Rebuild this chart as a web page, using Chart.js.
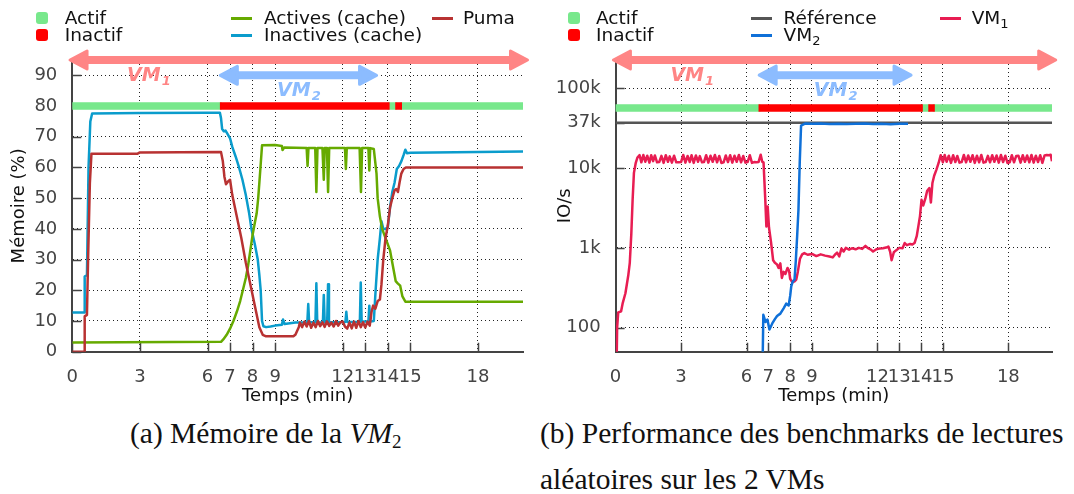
<!DOCTYPE html>
<html lang="fr">
<head>
<meta charset="utf-8">
<title>Mémoire de la VM2 et performance des lectures aléatoires</title>
<script src="https://cdn.jsdelivr.net/npm/chart.js@4.4.0/dist/chart.umd.min.js"></script>
<style>
  html, body { margin: 0; padding: 0; background: #fff; }
  body { width: 1074px; height: 494px; position: relative; overflow: hidden; font-family: "DejaVu Sans", sans-serif; }
  .panel { position: absolute; top: 0; height: 410px; }
  #left { left: 0; width: 540px; }
  #right { left: 540px; width: 534px; }
  .lg-text { position: absolute; height: 20px; line-height: 20px; font-size: 18.5px; color: #111; white-space: nowrap; }
  .lg-text sub { font-size: 13px; vertical-align: -4px; line-height: 0; }
  .lg-mark { position: absolute; }
  .caption { position: absolute; font-family: "Liberation Serif", serif; font-size: 29.5px; line-height: 46px; color: #111; white-space: nowrap; }
  .caption sub { font-size: 19px; vertical-align: -5px; line-height: 0; }
</style>
</head>
<body>
<div class="panel" id="left"><canvas id="memChart" width="540" height="410"></canvas></div>
<div class="panel" id="right"><canvas id="ioChart" width="534" height="410"></canvas></div>
<div id="legends"></div>
<div class="caption" style="left:130px; top:410px;">(a) Mémoire de la <i>VM</i><sub>2</sub></div>
<div class="caption" style="left:540px; top:410px;">(b) Performance des benchmarks de lectures<br>aléatoires sur les 2 VMs</div>

<script>
// Axis ticks
const timeTicks = [0, 3, 6, 7, 8, 9, 12, 13, 14, 15, 18];
const memTicks = [0, 10, 20, 30, 40, 50, 60, 70, 80, 90];
const ioTicks = [100, 1000, 10000, 37000, 100000];
const ioTickLabels = ["100", "1k", "10k", "37k", "100k"];

// VM2 state over time (min)
const statusTimes = [0, 6.55, 14.08, 14.33, 14.63, 20];
const statusStates = ["Actif", "Inactif", "Actif", "Inactif", "Actif"];

// (a) memory of VM2 (%)
const activesTime = [0, 6.6, 6.7, 6.85, 7.0, 7.15, 7.3, 7.45, 7.6, 7.7, 7.8, 7.9, 8.0, 8.1, 8.18, 8.25, 8.3, 8.35, 8.42, 9.0,
  9.3, 9.33, 9.4, 10.4, 10.44, 10.48, 10.78, 10.83, 10.88, 11.1, 11.16, 11.2, 11.3, 11.35, 11.4, 12.1, 12.14, 12.18, 12.75, 12.81,
  12.86, 13.14, 13.18, 13.22, 13.38, 13.5, 13.55, 13.65, 13.75, 13.9, 14.1, 14.2, 14.35, 14.45, 14.55, 14.65, 14.78, 20];
const activesVal = [3, 3.2, 4, 5.5, 7.5, 10, 13, 16.5, 21, 24, 28, 33, 38, 42, 45, 50, 55, 60, 67.2, 67.3,
  67, 65.7, 66.5, 66.3, 60.5, 66.3, 66.3, 52, 66.3, 66.3, 56, 66.3, 66.3, 52, 66.3, 66.3, 59.5, 66.3, 66.3, 52,
  66.3, 66.3, 59, 66.3, 66, 58, 50, 44, 40, 37, 33, 29, 23, 22.2, 21.5, 18, 16.3, 16.3];

const inactivesTime = [0, 0.52, 0.55, 0.65, 0.72, 0.8, 0.88, 3, 6, 6.55, 6.6, 6.65, 6.72, 6.8, 6.88, 7.0, 7.1, 7.25, 7.4, 7.55,
  7.7, 7.85, 7.95, 8.1, 8.23, 8.3, 8.36, 8.42, 8.48, 8.6, 8.8, 9.0, 9.3, 9.35, 9.42, 9.9, 10.2, 10.43, 10.47, 10.51,
  10.79, 10.83, 10.87, 11.12, 11.16, 11.2, 11.31, 11.35, 11.39, 12.12, 12.16, 12.2, 12.76, 12.8, 12.84, 13.14, 13.18, 13.22, 13.38, 13.46,
  13.55, 13.65, 13.72, 13.8, 13.9, 14.0, 14.1, 14.2, 14.3, 14.4, 14.5, 14.6, 14.7, 14.78, 14.85, 15, 18, 20];
const inactivesVal = [12.8, 12.8, 24.5, 25, 60, 75, 77.6, 77.7, 77.8, 77.8, 76, 72.5, 71.8, 72, 71, 69.5, 66.7, 63.5, 60, 56,
  51, 45, 40, 35, 30, 25, 20, 10, 8.3, 8, 8.2, 8.5, 8.8, 10.5, 9, 9.5, 9.5, 9.6, 15.5, 9.6,
  9.6, 22.3, 9.5, 9.6, 18.5, 9.6, 9.6, 22, 9.6, 9.7, 13, 9.7, 9.7, 22.5, 9.8, 9.8, 15, 9.8, 10, 20,
  30, 37, 42.5, 40, 40, 40.5, 47, 52, 55, 59.5, 60.5, 62, 64, 65.8, 64.6, 64.8, 65, 65.2];

const pumaTime = [0, 0.53, 0.55, 0.65, 0.7, 0.78, 0.85, 2.9, 3.0, 6.6, 6.68, 6.75, 6.82, 6.92, 7.0, 7.1, 7.3, 7.5, 7.7, 7.9,
  8.1, 8.3, 8.45, 8.6, 9.2, 9.8, 9.9, 10.05, 10.1, 10.2, 10.3, 10.4, 10.5, 10.6, 10.7, 10.8, 10.9, 11.0, 11.1, 11.2,
  11.3, 11.4, 11.5, 11.6, 11.7, 11.8, 11.9, 12.0, 12.1, 12.2, 12.3, 12.4, 12.5, 12.6, 12.7, 12.8, 12.9, 13.0, 13.1, 13.2,
  13.28, 13.35, 13.45, 13.55, 13.65, 13.72, 13.8, 13.9, 14.0, 14.1, 14.2, 14.3, 14.38, 14.45, 14.52, 14.6, 14.7, 14.8, 20];
const pumaVal = [0, 0, 11.5, 12, 30, 55, 64.5, 64.5, 64.9, 65, 62, 57, 54.5, 55.5, 56, 51, 44, 37, 29, 22,
  15, 8, 5.5, 5, 5, 5, 5.5, 8, 9.5, 8, 9.8, 8.2, 10, 7.8, 9.5, 8, 10, 8.3, 9.6, 8.1,
  9.9, 8.4, 9.5, 8.2, 10, 8.5, 9.6, 9.8, 8.2, 7.5, 9.5, 7.6, 9.8, 7.8, 10, 8, 9.6, 7.9, 9.8, 8.5,
  13, 15, 14, 16.5, 17, 22, 30, 37, 41, 47, 50, 52.5, 53, 52, 55, 58, 59.5, 60, 60];

// (b) random read IO/s
const refTime = [0, 20];
const refVal = [37000, 37000];

const vm1Time = [
  0.05, 0.07, 0.12, 0.25, 0.32, 0.45, 0.58, 0.65, 0.72, 0.78,
  0.84, 0.92, 1.0, 1.1, 1.18, 1.27, 1.36, 1.45, 1.55, 1.63,
  1.72, 1.8, 1.9, 2.0, 2.1, 2.2, 2.3, 2.4, 2.48, 2.58,
  2.68, 2.78, 2.9, 3.0, 3.1, 3.2, 3.3, 3.4, 3.48, 3.58,
  3.68, 3.78, 3.86, 3.96, 4.05, 4.15, 4.25, 4.35, 4.45, 4.55,
  4.65, 4.75, 4.85, 4.95, 5.05, 5.15, 5.25, 5.35, 5.45, 5.55,
  5.65, 5.75, 5.85, 5.95, 6.05, 6.15, 6.25, 6.35, 6.45, 6.55,
  6.65, 6.72, 6.78, 6.86, 6.91, 6.97, 7.03, 7.12, 7.22, 7.3,
  7.4, 7.47, 7.55, 7.62, 7.7, 7.78, 7.88, 7.95, 8.0, 8.1,
  8.2, 8.28, 8.35, 8.45, 8.55, 8.65, 8.8, 9.0, 9.2, 9.4,
  9.6, 9.8, 9.95, 10.05, 10.15, 10.25, 10.35, 10.45, 10.55, 10.7,
  10.85, 11.0, 11.15, 11.3, 11.45, 11.55, 11.7, 11.8, 11.95, 12.1,
  12.25, 12.4, 12.5, 12.58, 12.65, 12.75, 12.85, 13.0, 13.15, 13.25,
  13.35, 13.5, 13.6, 13.7, 13.8, 13.88, 13.95, 14.02, 14.1, 14.2,
  14.28, 14.38, 14.45, 14.52, 14.6, 14.7, 14.8, 14.9, 15.0, 15.08,
  15.17, 15.27, 15.37, 15.47, 15.57, 15.66, 15.76, 15.86, 15.96, 16.06,
  16.16, 16.26, 16.36, 16.46, 16.56, 16.66, 16.76, 16.86, 16.96, 17.06,
  17.16, 17.26, 17.36, 17.46, 17.56, 17.66, 17.76, 17.86, 17.96, 18.06,
  18.16, 18.26, 18.36, 18.46, 18.56, 18.66, 18.76, 18.86, 18.96, 19.06,
  19.16, 19.26, 19.36, 19.46, 19.56, 19.66, 19.76, 19.86, 19.94, 20.0];
const vm1Val = [
  40, 100, 155, 160, 200, 270, 450, 650, 1500, 4000,
  8700, 11500, 13500, 14500, 11800, 14600, 12000, 14300, 11700, 14500,
  12200, 14400, 11800, 11900, 14200, 11600, 14500, 12000, 14000, 11700,
  14300, 11800, 11800, 11900, 14600, 11700, 14200, 11900, 14500, 11600,
  14400, 12000, 14100, 11800, 11900, 14500, 11700, 14300, 12000, 14600,
  11800, 14200, 11600, 11800, 14400, 11900, 14500, 11700, 14300, 12000,
  14600, 11800, 14200, 11700, 11900, 14500, 11600, 11900, 11800, 11900,
  14700, 12000, 11800, 4000, 1850, 3300, 1800, 1200, 700, 650,
  620, 560, 640, 420, 500, 470, 560, 520, 410, 370,
  380, 400, 500, 730, 830, 860, 820, 840, 790, 830,
  800, 780, 760, 820, 870, 780, 980, 900, 1000, 950,
  990, 960, 1000, 970, 1060, 1000, 950, 900, 960, 980,
  990, 1010, 1040, 900, 700, 880, 930, 1000, 990, 1150,
  1080, 1120, 1100, 1150, 1400, 1900, 2500, 4000, 3400, 4200,
  5200, 5600, 3700, 6500, 8000, 9500, 11500, 14500, 11800, 14600,
  12000, 14300, 11600, 14500, 11900, 14200, 11700, 11900, 14600, 11800,
  14400, 12000, 14500, 11600, 14300, 11800, 14600, 11700, 11900, 14200,
  11800, 14500, 12000, 14400, 11700, 14600, 11900, 14300, 11600, 11800,
  14500, 11800, 14200, 14300, 11700, 14500, 12000, 14400, 11800, 14600,
  11700, 14300, 11900, 14500, 11600, 14400, 14600, 14500, 14700, 12200];

const vm2Time = [6.74, 6.77, 6.87, 6.96, 7.05, 7.18, 7.3, 7.4, 7.55, 7.7,
  7.82, 7.93, 8.0, 8.05, 8.12, 8.2, 8.26, 8.32, 8.38, 8.44,
  8.5, 8.7, 9.0, 9.4, 9.8, 10.2, 10.6, 11.0, 11.4, 11.8,
  12.2, 12.6, 13.0, 13.4];
const vm2Val = [40, 145, 118, 126, 95, 113, 128, 140, 150, 175,
  200, 190, 250, 330, 380, 400, 700, 1400, 3000, 12000,
  34000, 36200, 35800, 36300, 35700, 36000, 35600, 35900, 36200, 35700,
  35800, 35500, 35900, 36000];

// Colours
const colActif = "#78e88c";
const colInactif = "#ff0000";
const colActives = "#66aa00";
const colInactives = "#0a9ccc";
const colPuma = "#b83232";
const colRef = "#555555";
const colVM1 = "#e81d52";
const colVM2 = "#0f70d8";
const colArrow1 = "#ff8585";
const colArrow2 = "#8cbcff";

Chart.defaults.font.family = "'DejaVu Sans', sans-serif";
Chart.defaults.font.size = 18;
Chart.defaults.animation = false;

// Helpers
function pts(times, vals) {
  return times.map((t, i) => ({ x: t, y: vals[i] }));
}

function statusPoints(state, level) {
  const out = [];
  statusStates.forEach((s, i) => {
    if (s !== state) return;
    out.push({ x: statusTimes[i], y: level }, { x: statusTimes[i + 1], y: level }, { x: statusTimes[i + 1], y: null });
  });
  return out;
}

function lineSet(label, data, color, width) {
  return { label, data, borderColor: color, backgroundColor: color, borderWidth: width || 2.5,
    pointRadius: 0, tension: 0, borderJoinStyle: "round", fill: false, spanGaps: false };
}

function statusSets(level) {
  return [
    Object.assign(lineSet("Inactif", statusPoints("Inactif", level), colInactif, 7.5), { borderCapStyle: "butt" }),
    Object.assign(lineSet("Actif", statusPoints("Actif", level), colActif, 7.5), { borderCapStyle: "round" })
  ];
}

// Small inward tick marks on both axes
const innerTicks = {
  id: "innerTicks",
  beforeDatasetsDraw(chart) {
    const { ctx, chartArea, scales } = chart;
    ctx.save();
    ctx.strokeStyle = "#444";
    ctx.lineWidth = 1.5;
    ctx.beginPath();
    scales.x.ticks.forEach(t => {
      const px = Math.round(scales.x.getPixelForValue(t.value)) + 0.5;
      ctx.moveTo(px, chartArea.bottom);
      ctx.lineTo(px, chartArea.bottom - 9);
    });
    scales.y.ticks.forEach(t => {
      const py = Math.round(scales.y.getPixelForValue(t.value)) + 0.5;
      ctx.moveTo(chartArea.left, py);
      ctx.lineTo(chartArea.left + 9, py);
    });
    ctx.stroke();
    ctx.restore();
  }
};

// Double arrows showing when each VM runs
const vmArrows = {
  id: "vmArrows",
  afterDatasetsDraw(chart, args, opts) {
    const { ctx, scales } = chart;
    (opts.arrows || []).forEach(a => {
      const x1 = scales.x.getPixelForValue(a.from);
      const x2 = scales.x.getPixelForValue(a.to);
      const y = scales.y.getPixelForValue(a.y);
      const head = 17, half = 9;
      ctx.save();
      ctx.strokeStyle = a.color;
      ctx.fillStyle = a.color;
      ctx.lineWidth = 8;
      ctx.beginPath();
      ctx.moveTo(x1 + head - 2, y);
      ctx.lineTo(x2 - head + 2, y);
      ctx.stroke();
      ctx.lineWidth = 3;
      ctx.lineJoin = "round";
      [[x1, 1], [x2, -1]].forEach(([tip, dir]) => {
        ctx.beginPath();
        ctx.moveTo(tip, y);
        ctx.lineTo(tip + dir * head, y - half);
        ctx.lineTo(tip + dir * head, y + half);
        ctx.closePath();
        ctx.fill();
        ctx.stroke();
      });
      // label VM with subscript
      const big = "italic bold 19px 'DejaVu Sans'";
      const small = "italic bold 13px 'DejaVu Sans'";
      ctx.font = big;
      const w1 = ctx.measureText(a.name).width;
      ctx.font = small;
      const w2 = ctx.measureText(a.sub).width;
      const lx = a.labelAt === "start" ? x1 + 57 : (x1 + x2) / 2 - (w1 + w2) / 2;
      const ly = y + 21;
      ctx.textBaseline = "alphabetic";
      ctx.textAlign = "left";
      ctx.font = big;
      ctx.fillText(a.name, lx, ly);
      ctx.font = small;
      ctx.fillText(a.sub, lx + w1 + 1, ly + 4);
      ctx.restore();
    });
  }
};

function timeAxis() {
  return {
    type: "linear", min: 0, max: 20,
    afterBuildTicks: s => { s.ticks = timeTicks.map(v => ({ value: v })); },
    afterFit: s => { s.height = 58.3; },
    ticks: { autoSkip: false, maxRotation: 0, minRotation: 0, color: "#444", padding: 14.5, callback: v => String(v) },
    grid: { color: "#222", lineWidth: 1, drawTicks: false },
    border: { color: "#444", width: 2, dash: [1, 3] },
    title: { display: true, text: "Temps (min)", color: "#111", padding: { top: 0, bottom: 3.2 } }
  };
}

// (a) memory chart
new Chart(document.getElementById("memChart"), {
  type: "line",
  data: {
    datasets: [
      ...statusSets(80),
      lineSet("Puma", pts(pumaTime, pumaVal), colPuma),
      lineSet("Actives (cache)", pts(activesTime, activesVal), colActives),
      lineSet("Inactives (cache)", pts(inactivesTime, inactivesVal), colInactives)
    ]
  },
  options: {
    responsive: false,
    layout: { padding: { top: 60, right: 17, bottom: 0, left: 0 } },
    scales: {
      x: timeAxis(),
      y: {
        type: "linear", min: 0, max: 95,
        afterBuildTicks: s => { s.ticks = memTicks.map(v => ({ value: v })); },
        afterFit: s => { s.width = 72.3; },
        ticks: { color: "#444", padding: 15 },
        grid: { color: "#222", lineWidth: 1, drawTicks: false },
        border: { color: "#444", width: 2, dash: [1, 3] },
        title: { display: true, text: "Mémoire (%)", color: "#111", padding: { top: 8.2, bottom: 0 } }
      }
    },
    plugins: {
      legend: { display: false },
      tooltip: { enabled: false },
      vmArrows: { arrows: [
        { name: "VM", sub: "1", from: -0.1, to: 20.2, y: 95, color: colArrow1, labelAt: "start" },
        { name: "VM", sub: "2", from: 6.57, to: 13.5, y: 90, color: colArrow2, labelAt: "center" }
      ] }
    }
  },
  plugins: [innerTicks, vmArrows]
});

// (b) IO/s chart
new Chart(document.getElementById("ioChart"), {
  type: "line",
  data: {
    datasets: [
      ...statusSets(56500),
      lineSet("VM2", pts(vm2Time, vm2Val), colVM2),
      lineSet("VM1", pts(vm1Time, vm1Val), colVM1),
      lineSet("Référence", pts(refTime, refVal), colRef)
    ]
  },
  options: {
    responsive: false,
    layout: { padding: { top: 60, right: 22, bottom: 0, left: 0 } },
    scales: {
      x: timeAxis(),
      y: {
        type: "logarithmic", min: 50, max: 226000,
        afterBuildTicks: s => { s.ticks = ioTicks.map(v => ({ value: v })); },
        afterFit: s => { s.width = 75.6; },
        ticks: { color: "#444", padding: 15, callback: (v, i) => ioTickLabels[i] },
        grid: {
          color: c => (c.tick && c.tick.value === 37000 ? "rgba(0,0,0,0)" : "#222"),
          lineWidth: 1, drawTicks: false
        },
        border: { color: "#444", width: 2, dash: [1, 3] },
        title: { display: true, text: "IO/s", color: "#111", padding: { top: 14.2, bottom: 0 } }
      }
    },
    plugins: {
      legend: { display: false },
      tooltip: { enabled: false },
      vmArrows: { arrows: [
        { name: "VM", sub: "1", from: -0.1, to: 20.17, y: 226000, color: colArrow1, labelAt: "start" },
        { name: "VM", sub: "2", from: 6.58, to: 13.54, y: 146000, color: colArrow2, labelAt: "center" }
      ] }
    }
  },
  plugins: [innerTicks, vmArrows]
});

// Legends (HTML, two rows per panel)
const legendItems = [
  { text: "Actif", kind: "dot", color: colActif, mx: 36, tx: 64.7, cy: 18.3 },
  { text: "Inactif", kind: "dot", color: colInactif, mx: 36, tx: 64.7, cy: 35 },
  { text: "Actives (cache)", kind: "line", color: colActives, mx: 231, tx: 264, cy: 18.3 },
  { text: "Inactives (cache)", kind: "line", color: colInactives, mx: 231, tx: 264, cy: 35 },
  { text: "Puma", kind: "line", color: colPuma, mx: 431.5, tx: 463, cy: 18.3 },
  { text: "Actif", kind: "dot", color: colActif, mx: 568, tx: 596, cy: 18.3 },
  { text: "Inactif", kind: "dot", color: colInactif, mx: 568, tx: 596, cy: 35 },
  { text: "Référence", kind: "line", color: colRef, mx: 751, tx: 783.5, cy: 18.3 },
  { text: "VM<sub>2</sub>", kind: "line", color: colVM2, mx: 751, tx: 783.5, cy: 35 },
  { text: "VM<sub>1</sub>", kind: "line", color: colVM1, mx: 940, tx: 971.7, cy: 18.3 }
];
const legendBox = document.getElementById("legends");
legendItems.forEach(it => {
  const m = document.createElement("div");
  m.className = "lg-mark";
  m.style.background = it.color;
  if (it.kind === "dot") {
    m.style.left = it.mx + "px"; m.style.top = (it.cy - 6) + "px";
    m.style.width = "12px"; m.style.height = "12px"; m.style.borderRadius = "3px";
  } else {
    m.style.left = it.mx + "px"; m.style.top = (it.cy - 1.5) + "px";
    m.style.width = "21px"; m.style.height = "3px";
  }
  legendBox.appendChild(m);
  const t = document.createElement("div");
  t.className = "lg-text";
  t.style.left = it.tx + "px";
  t.style.top = (it.cy - 10) + "px";
  t.innerHTML = it.text;
  legendBox.appendChild(t);
});
</script>
</body>
</html>
